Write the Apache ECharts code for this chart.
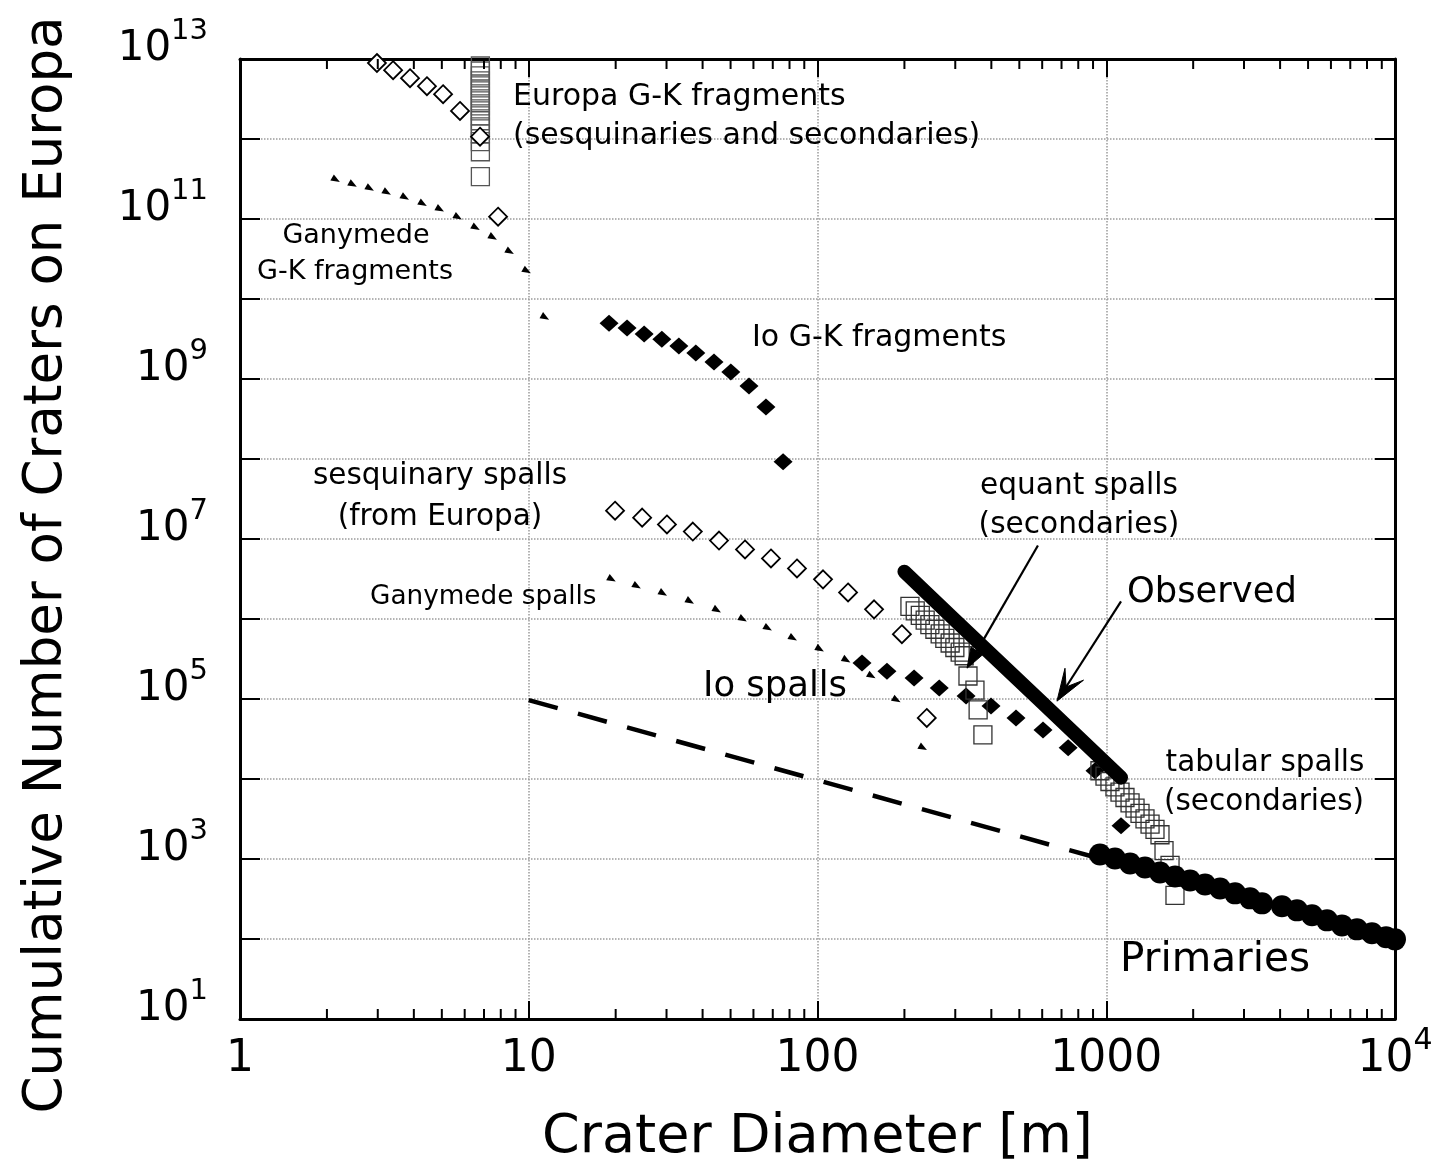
<!DOCTYPE html>
<html><head><meta charset="utf-8">
<script src="https://cdn.jsdelivr.net/npm/echarts@6/dist/echarts.min.js"></script>
<style>html,body{margin:0;padding:0;background:#fff}#c{width:1437px;height:1170px}</style>
</head><body><div id="c"></div>
<script>
// ---------------- data ----------------
const xMin = 1, xMax = 10000, yMin = 10, yMax = 1e13;
const minorTickValues = [2,3,4,5,6,7,8,9,20,30,40,50,60,70,80,90,200,300,400,500,600,700,800,900,2000,3000,4000,5000,6000,7000,8000,9000];

const ganymedeGK_D = [2.15,2.46,2.82,3.23,3.73,4.30,4.93,5.69,6.56,7.52,8.61,9.86,11.4];
const ganymedeGK_N = [3.09e11,2.69e11,2.40e11,2.14e11,1.86e11,1.55e11,1.32e11,1.05e11,7.76e10,5.89e10,3.89e10,2.24e10,5.89e9];

const europaGK_D = [2.98,3.39,3.88,4.44,5.05,5.78,6.78,7.83];
const europaGK_N = [8.91e12,7.24e12,5.75e12,4.57e12,3.63e12,2.24e12,1.07e12,1.07e11];

const europaGKsq_D = [6.8,6.8,6.8,6.8,6.8,6.8,6.8,6.8,6.8,6.8,6.8,6.8,6.8,6.8,6.8,6.8,6.8];
const europaGKsq_N = [8.18e12,7.08e12,6.14e12,5.32e12,4.61e12,3.99e12,3.46e12,3.00e12,2.59e12,2.25e12,1.95e12,1.69e12,1.42e12,1.16e12,9.25e11,6.93e11,3.39e11];

const ioGK_D = [18.97,21.9,25.1,28.9,33.1,37.9,43.8,50.1,57.9,66.3,76.0];
const ioGK_N = [4.99e9,4.33e9,3.64e9,3.15e9,2.58e9,2.11e9,1.63e9,1.22e9,8.18e8,4.48e8,9.25e7];

const sesq_D = [19.9,24.7,30.1,37.0,45.6,56.1,69.0,84.9,104.5,127.6,157,196,239];
const sesq_N = [2.26e7,1.85e7,1.52e7,1.24e7,9.57e6,7.40e6,5.71e6,4.29e6,3.13e6,2.15e6,1.32e6,6.46e5,5.79e4];

const ganymedeSp_D = [19.4,23.7,29.2,36.2,44.9,55.2,67.4,82.3,102,126,154,188,232];
const ganymedeSp_N = [3.13e6,2.56e6,2.09e6,1.66e6,1.29e6,9.93e5,7.67e5,5.75e5,4.20e5,3.06e5,1.94e5,9.7e4,2.45e4];

const ioSp_D = [142.6,174,216,264,327,399,487,604,738,914,1125];
const ioSp_N = [2.81e5,2.23e5,1.83e5,1.37e5,1.09e5,8.18e4,5.79e4,4.11e4,2.45e4,1.27e4,2.61e3];

const equant_D = [209,218,227,236,245,255,266,276,288,299,312,322,332,351,360,374];
const equant_N = [1.44e6,1.26e6,1.11e6,9.7e5,8.5e5,7.45e5,6.53e5,5.72e5,5.01e5,4.40e5,3.85e5,3.47e5,1.94e5,1.29e5,7.3e4,3.56e4];

const tabular_D = [951,990,1030,1072,1116,1161,1209,1258,1309,1362,1418,1475,1535,1585,1663,1730];
const tabular_N = [12680,10860,9310,7980,6850,5870,5040,4320,3710,3180,2730,2340,2010,1276,830,351];

const primaries_D = [951,1072,1209,1362,1535,1731,1951,2199,2478,2793,3147,3463,4060,4578,5160,5816,6551,7386,8322,9312,10000];
const primaries_N = [1138,1014,879,783,679,605,540,481,429,372,322,279,256,228,198,171,148,132,118,105,99];

const observed_D = [200,300,600,1125];
const observed_N = [3.9e6,9.6e5,9.0e4,1.04e4];

const extrap_D = [10,921];
const extrap_N = [9.7e4,1045];

// arrows: [fromD, fromN, toD, toN, headStyle]
const arrowList = [[580,8.3e6,329.5,2.43e5,0],[1125,1.66e6,675,9.4e4,1]];

// ---------------- chart ----------------
const FONT = 'DejaVu Sans';
const zip = (a,b) => a.map((v,i)=>[v,b[i]]);
const chart = echarts.init(document.getElementById('c'));

const openDiamond = {color:'#ffffff', borderColor:'#000', borderWidth:1.8, opacity:1};
const openSquare = {color:'rgba(0,0,0,0)', borderColor:'#333', borderWidth:1.3, opacity:1};
const solid = {color:'#000', opacity:1};

function scatter(name, data, symbol, size, style, extra){
  return Object.assign({name, type:'scatter', data, symbol, symbolSize:size, itemStyle:style,
    silent:true, emphasis:{disabled:true}}, extra||{});
}

const xRich = {
  b:{fontSize:44, padding:[12,0,0,0], color:'#000', fontFamily:FONT},
  s:{fontSize:30, padding:[0,0,26,0], color:'#000', fontFamily:FONT}
};
const yRich = {
  b:{fontSize:42, padding:[12,0,32,0], color:'#000', fontFamily:FONT},
  s:{fontSize:29, padding:[0,0,56,0], color:'#000', fontFamily:FONT}
};

const gridLine = {show:true, lineStyle:{color:'#9a9a9a', type:'dotted', width:1.5}};

const option = {
  animation:false,
  backgroundColor:'#fff',
  textStyle:{fontFamily:FONT, color:'#000'},
  grid:{left:240, right:42, top:59, bottom:148, containLabel:false},
  xAxis:[{
    type:'log', logBase:10, min:xMin, max:xMax, splitNumber:4,
    axisLine:{show:true, onZero:false, lineStyle:{color:'#000', width:3}},
    axisTick:{show:true, inside:true, length:18, lineStyle:{color:'#000', width:2}},
    axisLabel:{show:true, margin:7, showMinLabel:true, showMaxLabel:true,
      formatter:function(v){ const r=Math.round(v); return r===10000 ? '{b|10}{s|4}' : '{b|'+r+'}'; },
      rich:xRich},
    splitLine:gridLine,
    name:'Crater Diameter [m]', nameLocation:'middle', nameGap:92,
    nameTextStyle:{fontSize:54, color:'#000', fontFamily:FONT}
  },{
    type:'log', logBase:10, min:xMin, max:xMax, splitNumber:4, position:'top',
    axisLine:{show:true, onZero:false, lineStyle:{color:'#000', width:3}},
    axisTick:{show:true, inside:true, length:18, lineStyle:{color:'#000', width:2}},
    axisLabel:{show:false}, splitLine:{show:false}
  }],
  yAxis:[{
    type:'log', logBase:10, min:yMin, max:yMax, interval:1, splitNumber:12,
    axisLine:{show:true, onZero:false, lineStyle:{color:'#000', width:3}},
    axisTick:{show:true, inside:true, length:20, lineStyle:{color:'#000', width:2}},
    axisLabel:{show:true, margin:32, showMinLabel:true, showMaxLabel:true,
      formatter:function(v){ const e=Math.round(Math.log10(v)); return (e%2===1) ? '{b|10}{s|'+e+'}' : ''; },
      rich:yRich},
    splitLine:gridLine
  },{
    type:'log', logBase:10, min:yMin, max:yMax, interval:1, splitNumber:12, position:'right',
    axisLine:{show:true, onZero:false, lineStyle:{color:'#000', width:3}},
    axisTick:{show:true, inside:true, length:20, lineStyle:{color:'#000', width:2}},
    axisLabel:{show:false}, splitLine:{show:false}
  }],
  series:[
    {type:'custom', name:'minorTicks', silent:true, clip:false, z:5,
     data: minorTickValues.map(v=>[v, yMin]),
     encode:{x:0, y:1},
     renderItem:function(params, api){
       const v = api.value(0);
       const b = api.coord([v, yMin]);
       const t = api.coord([v, yMax]);
       return {type:'group', children:[
         {type:'line', shape:{x1:b[0], y1:b[1], x2:b[0], y2:b[1]-10}, style:{stroke:'#000', lineWidth:2}},
         {type:'line', shape:{x1:t[0], y1:t[1], x2:t[0], y2:t[1]+10}, style:{stroke:'#000', lineWidth:2}}
       ]};
     }},
    {name:'extrapolation', type:'line', data:zip(extrap_D, extrap_N), showSymbol:false, symbol:'none',
     lineStyle:{color:'#000', width:4.5, type:[30,21], opacity:1}, silent:true, z:2},
    scatter('Ganymede G-K fragments', zip(ganymedeGK_D, ganymedeGK_N), 'triangle', [7,9], solid, {symbolRotate:-120, z:3}),
    scatter('Ganymede spalls', zip(ganymedeSp_D, ganymedeSp_N), 'triangle', [7,9], solid, {symbolRotate:-120, z:3}),
    scatter('Europa G-K squares', zip(europaGKsq_D, europaGKsq_N), 'rect', 18, {color:'rgba(0,0,0,0)', borderColor:'#555', borderWidth:1.3, opacity:1}, {z:3}),
    scatter('Europa G-K fragments', zip(europaGK_D, europaGK_N), 'diamond', 18, openDiamond, {z:4}),
    scatter('Io G-K fragments', zip(ioGK_D, ioGK_N), 'diamond', [19,17], solid, {z:4}),
    scatter('sesquinary spalls', zip(sesq_D, sesq_N), 'diamond', 18, openDiamond, {z:4}),
    scatter('Io spalls', zip(ioSp_D, ioSp_N), 'diamond', [19,17], solid, {z:4}),
    scatter('equant spalls', zip(equant_D, equant_N), 'rect', 18, openSquare, {z:5}),
    scatter('tabular spalls', zip(tabular_D, tabular_N), 'rect', 18, openSquare, {z:5}),
    scatter('Primaries', zip(primaries_D, primaries_N), 'circle', 22, solid, {z:6}),
    {name:'Observed', type:'line', data:zip(observed_D, observed_N), showSymbol:false, symbol:'none',
     lineStyle:{color:'#000', width:14, cap:'round', join:'round', opacity:1}, silent:true, z:7},
    {type:'custom', name:'arrows', silent:true, clip:false, z:8,
     data: arrowList, encode:{x:[0,2], y:[1,3]},
     renderItem:function(params, api){
       const p1 = api.coord([api.value(0), api.value(1)]);
       const p2 = api.coord([api.value(2), api.value(3)]);
       const kind = api.value(4);
       const dx = p2[0]-p1[0], dy = p2[1]-p1[1];
       const L = Math.sqrt(dx*dx+dy*dy), ux = dx/L, uy = dy/L, nx = -uy, ny = ux;
       const hl = kind===0 ? 20 : 28, hw = kind===0 ? 7 : 11;
       const bx = p2[0]-ux*hl, by = p2[1]-uy*hl;
       let pts;
       if (kind===0) {
         pts = [[p2[0],p2[1]],[bx+nx*hw,by+ny*hw],[bx-nx*hw,by-ny*hw]];
       } else {
         const nxp = p2[0]-ux*hl*0.6, nyp = p2[1]-uy*hl*0.6;
         pts = [[p2[0],p2[1]],[bx+nx*hw-ux*4,by+ny*hw-uy*4],[nxp,nyp],[bx-nx*hw-ux*4,by-ny*hw-uy*4]];
       }
       const lineEnd = kind===0 ? [bx,by] : [p2[0]-ux*hl*0.6, p2[1]-uy*hl*0.6];
       return {type:'group', children:[
         {type:'line', shape:{x1:p1[0], y1:p1[1], x2:lineEnd[0], y2:lineEnd[1]}, style:{stroke:'#000', lineWidth:2.2}},
         {type:'polygon', shape:{points:pts}, style:{fill:'#000', stroke:'#000', lineWidth:1}}
       ]};
     }}
  ],
  graphic:[
    {type:'text', silent:true, z:100, rotation:Math.PI/2, x:47, y:565,
     style:{text:'Cumulative Number of Craters on Europa', font:'53px "DejaVu Sans"', fill:'#000', align:'center', verticalAlign:'middle'}},
  ].concat([
    ['Europa G-K fragments', 513, 97, 30, 'left'],
    ['(sesquinaries and secondaries)', 513, 136, 30, 'left'],
    ['Ganymede', 356, 236, 27, 'center'],
    ['G-K fragments', 355, 272, 27, 'center'],
    ['Io G-K fragments', 752, 338, 30, 'left'],
    ['sesquinary spalls', 440, 476, 29.5, 'center'],
    ['(from Europa)', 440, 517, 29.5, 'center'],
    ['Ganymede spalls', 370, 597, 26.3, 'left'],
    ['equant spalls', 1079, 486, 29.6, 'center'],
    ['(secondaries)', 1079, 525, 29.6, 'center'],
    ['Observed', 1127, 593, 35.3, 'left'],
    ['Io spalls', 703, 687, 35.4, 'left'],
    ['tabular spalls', 1265, 763, 29.5, 'center'],
    ['(secondaries)', 1264, 802, 29.5, 'center'],
    ['Primaries', 1120, 960, 40.6, 'left']
  ].map(t => ({type:'text', silent:true, z:100, x:t[1], y:t[2],
      style:{text:t[0], font:t[3]+'px "DejaVu Sans"', fill:'#000', align:t[4], verticalAlign:'middle'}})))
};
chart.setOption(option);
</script>
</body></html>
